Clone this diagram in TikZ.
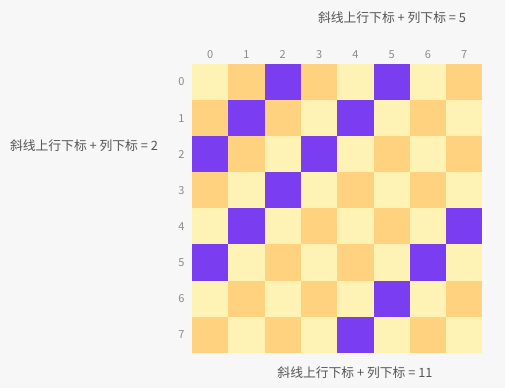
\documentclass[tikz,border=0pt]{standalone}
\usepackage{fontspec}
\setmainfont{Noto Sans CJK SC}
\usetikzlibrary{positioning}
\definecolor{lightcell}{HTML}{FFF2B5}
\definecolor{darkcell}{HTML}{FFD280}
\definecolor{hitcell}{HTML}{7B3DF0}
\definecolor{idxgray}{HTML}{8A8A8A}
\definecolor{txtgray}{HTML}{555555}
\begin{document}
\begin{tikzpicture}[x=1pt, y=-1pt,
	cell/.style = {minimum size = 36.3pt, inner sep = 0pt, outer sep = 0pt},
	idx/.style = {text = idxgray, font = \fontsize{11}{13}\selectfont},
	note/.style = {text = txtgray, font = \fontsize{12.8}{15}\selectfont}]
	\useasboundingbox[fill = white!97!black] (0,0) rectangle (505,388);
	% checkerboard
	\foreach \r in {0,...,7} {
		\foreach \c in {0,...,7} {
			\pgfmathtruncatemacro{\s}{\r+\c}
			\pgfmathtruncatemacro{\p}{mod(\s,2)}
			\ifnum\p=0 \def\col{lightcell}\else \def\col{darkcell}\fi
			\ifnum\s=2 \def\col{hitcell}\fi
			\ifnum\s=5 \def\col{hitcell}\fi
			\ifnum\s=11 \def\col{hitcell}\fi
			\node[cell, fill = \col] (c-\r-\c) at ({192+36.3*(\c+0.5)}, {64+36.1*(\r+0.5)}) {};
		}
	}
	% indices
	\foreach \i in {0,...,7} {
		\node[idx, above = 2pt of c-0-\i] (col-\i) {\i};
		\node[idx, left = 4pt of c-\i-0] (row-\i) {\i};
	}
	% notes
	\node[note] (sum5) at (392,18) {斜线上行下标 + 列下标 = 5};
	\node[note] (sum2) at (84,146) {斜线上行下标 + 列下标 = 2};
	\node[note] (sum11) at (355,373) {斜线上行下标 + 列下标 = 11};
\end{tikzpicture}
\end{document}
